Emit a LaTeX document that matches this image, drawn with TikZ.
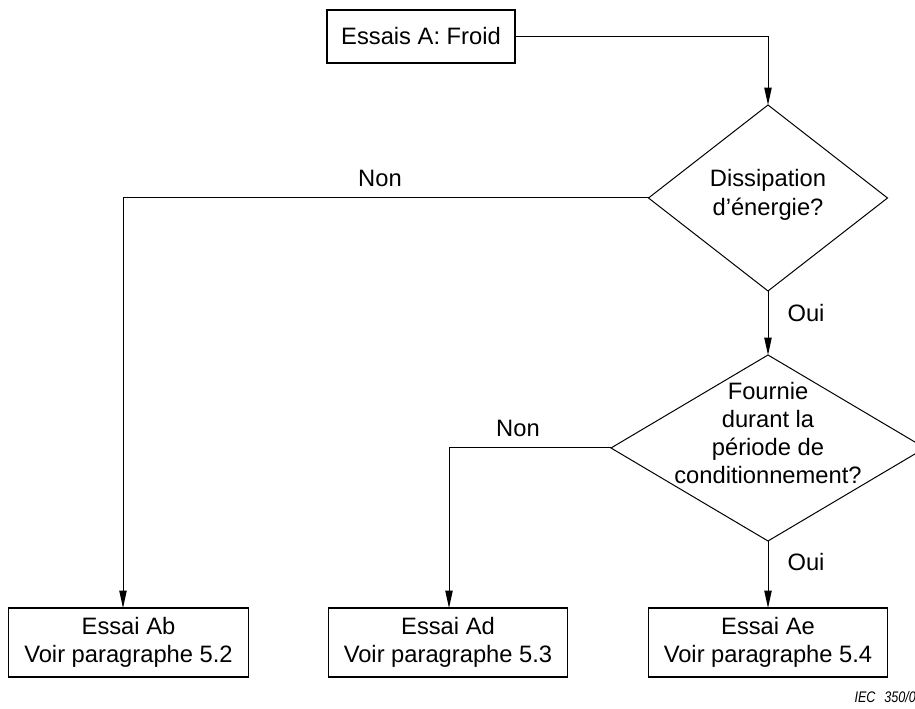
\documentclass[tikz,border=0pt]{standalone}
\usepackage{fontspec}
\setmainfont{Liberation Sans}
\usetikzlibrary{arrows.meta,shapes.geometric,calc}
\begin{document}
\begin{tikzpicture}[x=0.75pt,y=-0.75pt,
  every node/.style={font=\fontsize{17.8}{21.5}\selectfont},
  box/.style={draw, line width=0.9pt, inner sep=0pt, outer sep=0pt, align=center},
  dia/.style={draw, diamond, line width=0.75pt, inner sep=0pt, outer sep=0pt},
  txt/.style={align=center, inner sep=0pt},
  conn/.style={line width=0.75pt},
  arr/.style={conn, -{Triangle[length=13pt,width=5.5pt]}},
  lbl/.style={inner sep=0pt}]
\useasboundingbox (0,0) rectangle (915,709);
% boxes
\node[box, minimum width=141pt, minimum height=39.75pt] (top) at (421,36.5) {Essais A: Froid};
\node[box, minimum width=179.5pt, minimum height=51.75pt] (b1) at (128.5,642.5) {Essai Ab\\Voir paragraphe 5.2};
\node[box, minimum width=179.5pt, minimum height=51.75pt] (b2) at (448,642.5) {Essai Ad\\Voir paragraphe 5.3};
\node[box, minimum width=179.5pt, minimum height=51.75pt] (b3) at (768,642.5) {Essai Ae\\Voir paragraphe 5.4};
% diamonds
\node[dia, minimum width=179.25pt, minimum height=139.5pt] (d1) at (768,198) {};
\node[txt] (d1t) at (768,195) {Dissipation\\d’énergie?};
\node[dia, minimum width=235.5pt, minimum height=139.5pt] (d2) at (768,448) {};
\node[txt, font=\fontsize{17.8}{20.8}\selectfont] (d2t) at (768,433) {Fournie\\durant la\\période de\\conditionnement?};
% connectors
\draw[arr] (top.east) -- (top.east -| d1.north) -- (d1.north);
\coordinate (c1) at (123,198);
\draw[arr] (d1.west) -- (c1) -- (c1 |- b1.north);
\coordinate (c2) at (449,448);
\draw[arr] (d2.west) -- (c2) -- (c2 |- b2.north);
\draw[arr] (d1.south) -- (d2.north);
\draw[arr] (d2.south) -- (b3.north);
% labels
\node[lbl] (non1) at (380,178) {Non};
\node[lbl] (non2) at (518,428) {Non};
\node[lbl] (oui1) at (806,313) {Oui};
\node[lbl] (oui2) at (806,562) {Oui};
\node[lbl, font=\fontsize{11.5}{13}\selectfont\itshape, anchor=east, xscale=0.82, transform shape] (iec) at (916,697) {IEC\hspace{0.7em}350/0};
\end{tikzpicture}
\end{document}
